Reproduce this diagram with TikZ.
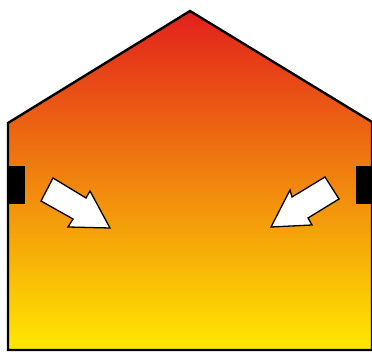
\documentclass[tikz,border=0pt]{standalone}
\usetikzlibrary{positioning}
\definecolor{heatred}{RGB}{226,32,28}
\definecolor{heatorange}{RGB}{243,152,4}
\definecolor{heatyellow}{RGB}{255,232,0}
\begin{document}
\begin{tikzpicture}[x=1pt,y=-1pt]
\tikzset{
  housewall/.style={draw=black,line width=2.4pt,line join=miter,top color=heatred,middle color=heatorange,bottom color=heatyellow},
  ventbox/.style={fill=black,draw=none,inner sep=0pt,minimum width=17pt,minimum height=38pt},
  airarrow/.style={fill=white,draw=black,line width=1.3pt,line join=miter}
}
\useasboundingbox (0,0) rectangle (372,352);
% house outline
\coordinate (h_bl) at (8,350);
\coordinate (h_br) at (372,350);
\coordinate (h_er) at (372,122);
\coordinate (h_top) at (190,11);
\coordinate (h_el) at (8,123);
\draw[housewall] (h_bl) -- (h_br) -- (h_er) -- (h_top) -- (h_el) -- cycle;
% vents
\node[ventbox] (v_left) at (16.5,185) {};
\node[ventbox] (v_right) at (364.5,185.5) {};
% air flow
\draw[airarrow] (53,178) -- (86,198) -- (90,191) -- (110,228) -- (68,227) -- (73,219) -- (41,201) -- cycle;
\draw[airarrow] (325,177) -- (292,197) -- (290,190) -- (271,227) -- (312,225) -- (308,218) -- (339,199) -- cycle;
\end{tikzpicture}
\end{document}
